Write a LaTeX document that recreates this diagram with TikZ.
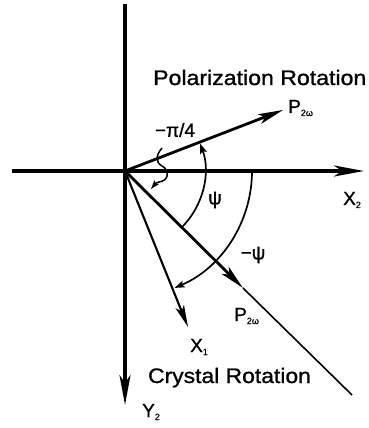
\documentclass[tikz,border=0pt]{standalone}
\usepackage{fontspec}
\usepackage{graphicx}
\setmainfont{Liberation Sans}[FakeBold=1]
\usetikzlibrary{arrows.meta}
\tikzset{
  axis/.style={line width=3.4pt,-{Stealth[length=30pt,width=11pt,inset=8pt]}},
  vec/.style={line width=2.8pt,-{Stealth[length=25pt,width=10pt,inset=6pt]}},
  thinvec/.style={line width=2.1pt,-{Stealth[length=22pt,width=9pt,inset=5pt]}},
  arcarrow/.style={line width=1.7pt,-{Stealth[length=10pt,width=7pt,inset=2pt]}},
  big/.style={font=\fontsize{21}{24}\selectfont,inner sep=0pt},
  lab/.style={font=\fontsize{19}{22}\selectfont,inner sep=0pt},
}
\newcommand\sub[1]{\raisebox{-3pt}{\fontsize{9}{10}\selectfont #1}}
\begin{document}
\begin{tikzpicture}[x=1pt,y=1pt]
\useasboundingbox (-125,-257) rectangle (243,171);
\coordinate (O) at (0,0);
\coordinate (top) at (0,167);
\coordinate (left) at (-113,0);
\coordinate (ytip) at (0,-234);
\coordinate (xtip) at (239,0);
\coordinate (ptip) at (158,61);
\coordinate (qtip) at (118,-117);
\coordinate (qend) at (227,-224);
\coordinate (x1tip) at (63,-156);
% axes
\draw[axis] (top) -- (ytip);
\draw[axis] (left) -- (xtip);
% vectors
\draw[vec] (O) -- (ptip);
\draw[vec] (O) -- (qtip);
\draw[line width=1.6pt] (qtip) -- (qend);
\draw[thinvec] (O) -- (x1tip);
% arcs
\draw[arcarrow] (-45:80) arc[start angle=-45,end angle=20,radius=80];
\draw[arcarrow] (0:127) arc[start angle=0,end angle=-67,radius=127];
\draw[line width=1.5pt,-{Stealth[length=9pt,width=6pt,inset=2pt]}] (37,23) .. controls (31,16) and (30,9) .. (37,5) .. controls (45,1) and (44,-10) .. (34,-11) .. controls (31,-12) .. (26,-18);
% labels
\node[big,anchor=base west] (pr) at (28,86) {\scalebox{1.1}[1]{Polarization Rotation}};
\node[big,anchor=base] (cr) at (104.5,-212) {\scalebox{1.09}[1]{Crystal Rotation}};
\node[lab,anchor=base west] (p1) at (163,58) {P\sub{2ω}};
\node[lab,anchor=base west] (p2) at (109,-150) {P\sub{2ω}};
\node[lab,anchor=base west] (x2) at (218,-34) {X\sub{2}};
\node[lab,anchor=base west] (x1) at (65,-181) {X\sub{1}};
\node[lab,anchor=base west] (y2) at (17,-246) {Y\sub{2}};
\node[lab] (psi) at (90,-29) {ψ};
\node[lab] (mpsi) at (128,-84) {−ψ};
\node[lab] (pi4) at (50,41) {−π/4};
\end{tikzpicture}
\end{document}
